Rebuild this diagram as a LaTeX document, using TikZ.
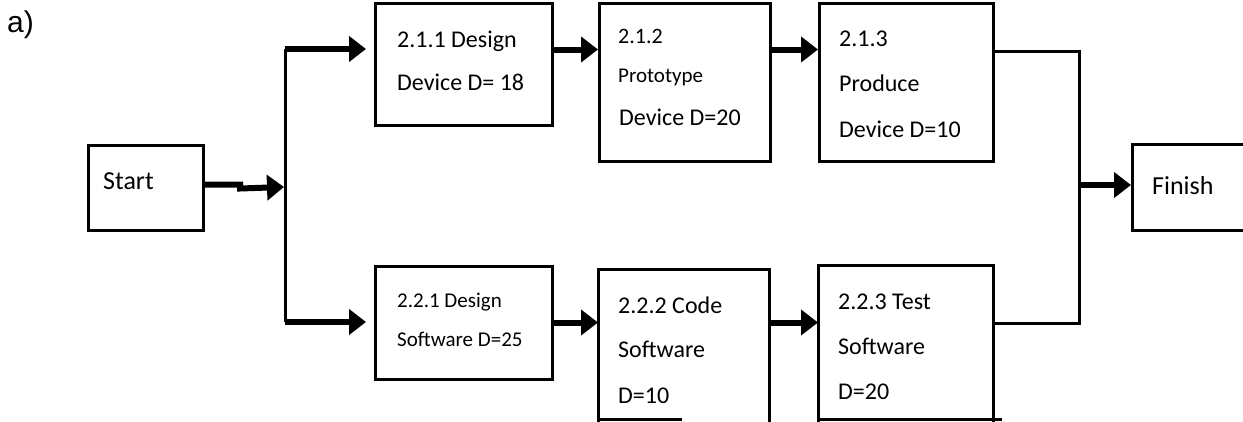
\documentclass[tikz,border=0pt]{standalone}
\usepackage{fontspec}
\setmainfont{Carlito}
\newfontfamily\labelfont{Liberation Sans}
\usetikzlibrary{arrows.meta}

\tikzset{
  frame/.style={draw=black, line width=3pt},
  box/.style={frame, anchor=north west, inner sep=0pt},
  openbox/.style={anchor=north west, inner sep=0pt},
  txt/.style={anchor=base west, inner sep=0pt, font=\fontsize{24}{28}\selectfont},
  smalltxt/.style={txt, font=\fontsize{21}{25}\selectfont},
  bigtxt/.style={txt, font=\fontsize{26}{30}\selectfont},
  flow/.style={draw=black, line width=6pt, -{Triangle[length=17pt,width=25pt]}},
  link/.style={draw=black, line width=3pt},
}

\begin{document}
\begin{tikzpicture}[x=1pt,y=-1pt]
\useasboundingbox (0,0) rectangle (1243,421);
\clip (0,0) rectangle (1243,421);
\fill[white] (0,0) rectangle (1243,421);

% panel label
\node[anchor=base west, inner sep=0pt, font=\labelfont\fontsize{30}{34}\selectfont] (lbl) at (7,32) {a)};

% boxes
\node[box, minimum width=115pt, minimum height=85pt]  (start)  at (87,144)  {};
\node[box, minimum width=177pt, minimum height=122pt] (d211)   at (374,2)   {};
\node[box, minimum width=171pt, minimum height=158pt] (d212)   at (598,2)   {};
\node[box, minimum width=174pt, minimum height=158pt] (d213)   at (818,2)   {};
\node[box, minimum width=177pt, minimum height=113pt] (d221)   at (374,265) {};
\node[openbox, minimum width=171pt, minimum height=150pt] (d222) at (598,269) {};
\node[openbox, minimum width=175pt, minimum height=154pt] (d223) at (818,265) {};
\node[box, minimum width=140pt, minimum height=86pt]  (finish) at (1131,143) {};

% the two lower boxes run off the bottom edge
\draw[frame] ([yshift=-6pt]d222.south west) -- (d222.north west) -- (d222.north east) -- ([yshift=-6pt]d222.south east);
\draw[frame] (d222.south west) -- ++(84,0);
\draw[frame] ([yshift=-6pt]d223.south west) -- (d223.north west) -- (d223.north east) -- ([yshift=-6pt]d223.south east);
\draw[frame] (d223.south west) -- ++(184,0);

% box texts
\node[bigtxt] (tstart) at (103,189) {Start};
\node[bigtxt] (tfinish) at (1152,194) {Finish};

\node[txt] (t211a) at (397,47) {2.1.1 Design};
\node[txt] (t211b) at (397,90) {Device D= 18};

\node[txt, font=\fontsize{22}{26}\selectfont] (t212a) at (618,43) {2.1.2};
\node[smalltxt] (t212b) at (618,82) {Prototype};
\node[txt] (t212c) at (619,125) {Device D=20};

\node[txt] (t213a) at (839,46) {2.1.3};
\node[txt] (t213b) at (839,91) {Produce};
\node[txt] (t213c) at (839,137) {Device D=10};

\node[smalltxt] (t221a) at (397,307) {2.2.1 Design};
\node[smalltxt] (t221b) at (397,346) {Software D=25};

\node[txt] (t222a) at (618,313) {2.2.2 Code};
\node[txt] (t222b) at (618,357) {Software};
\node[txt] (t222c) at (618,403) {D=10};

\node[txt] (t223a) at (838,309) {2.2.3 Test};
\node[txt] (t223b) at (838,354) {Software};
\node[txt] (t223c) at (838,399) {D=20};

% split after Start
\coordinate (jtop) at (285,49);
\coordinate (jmid) at (284,187);
\coordinate (jbot) at (285,322);
\draw[flow] (start.east) ++(0,-3.5) -- ++(35,0) -- ++(0,4) -- (jmid);
\draw[link] (jtop) -- (jbot);
\draw[flow, shorten >=8pt] (jtop) -- (jtop -| d211.west);
\draw[flow, shorten >=8pt] (jbot) -- (jbot -| d221.west);

% chains
\coordinate (rowA) at (0,49.5);
\coordinate (rowB) at (0,322.5);
\draw[flow] (d211.east |- rowA) -- (d212.west |- rowA);
\draw[flow] (d212.east |- rowA) -- (d213.west |- rowA);
\draw[flow] (d221.east |- rowB) -- (d222.west |- rowB);
\draw[flow] (d222.east |- rowB) -- (d223.west |- rowB);

% merge into Finish
\coordinate (mtop) at (1079,51);
\coordinate (mmid) at (1079,185);
\coordinate (mbot) at (1079,323);
\draw[link] (d213.east |- mtop) -- (mtop) -- (mbot) -- (d223.east |- mbot);
\draw[flow] (mmid) -- (mmid -| finish.west);
\end{tikzpicture}
\end{document}
